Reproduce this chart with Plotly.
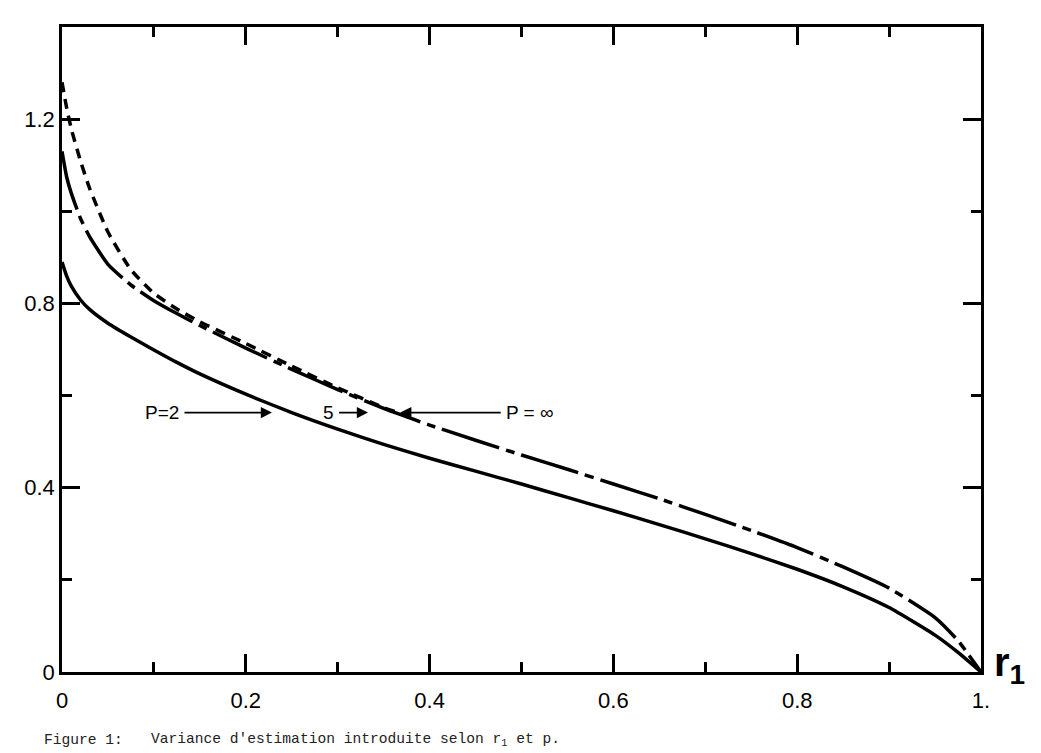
import plotly.graph_objects as go

# ---- data ----
r1 = [0, 0.005, 0.01, 0.02, 0.03, 0.05, 0.075, 0.1, 0.125, 0.15, 0.2, 0.25,
      0.3, 0.35, 0.4, 0.45, 0.5, 0.55, 0.6, 0.65, 0.7, 0.75, 0.8, 0.85,
      0.9, 0.95, 0.975, 1.0]

var_p2 = [0.89, 0.86, 0.838, 0.808, 0.787, 0.757, 0.727, 0.699, 0.672, 0.647,
          0.603, 0.563, 0.527, 0.494, 0.464, 0.436, 0.408, 0.379, 0.35, 0.32,
          0.289, 0.257, 0.223, 0.185, 0.14, 0.08, 0.0425, 0.0]

var_pinf = [1.13, 1.075, 1.04, 0.985, 0.945, 0.885, 0.84, 0.806, 0.778, 0.752,
            0.703, 0.657, 0.613, 0.572, 0.536, 0.503, 0.471, 0.44, 0.408,
            0.376, 0.342, 0.307, 0.27, 0.228, 0.182, 0.118, 0.068, 0.0]

r1_p5 = [0, 0.005, 0.01, 0.02, 0.03, 0.05, 0.075, 0.1, 0.125, 0.15, 0.2,
         0.25, 0.3, 0.35, 0.38]
var_p5 = [1.28, 1.225, 1.18, 1.11, 1.05, 0.955, 0.873, 0.822, 0.788, 0.76,
          0.713, 0.664, 0.617, 0.574, 0.553]

x_tickvals = [0, 0.2, 0.4, 0.6, 0.8, 1.0]
x_ticktext = ["0", "0.2", "0.4", "0.6", "0.8", "1."]
y_tickvals = [0, 0.4, 0.8, 1.2]
y_ticktext = ["0", "0.4", "0.8", "1.2"]

fig = go.Figure()
fig.add_trace(go.Scatter(x=r1, y=var_p2, mode="lines", name="P=2",
                         line=dict(color="black", width=3.5, shape="spline",
                                   smoothing=0.5)))
fig.add_trace(go.Scatter(x=r1, y=var_pinf, mode="lines", name="P=∞",
                         line=dict(color="black", width=3.5, shape="spline",
                                   smoothing=0.5, dash="60px,7px,9px,7px")))
fig.add_trace(go.Scatter(x=r1_p5, y=var_p5, mode="lines", name="P=5",
                         line=dict(color="black", width=3.5, shape="spline",
                                   smoothing=0.5, dash="10px,7px")))

axis_common = dict(showgrid=False, zeroline=False, showline=True,
                   linecolor="black", linewidth=2.5, mirror="allticks",
                   ticks="inside", tickcolor="black", tickwidth=2.5,
                   ticklen=18,
                   tickfont=dict(family="Liberation Sans, Arial", size=22,
                                 color="black"))

fig.update_xaxes(range=[0, 1.0], tickmode="array", tickvals=x_tickvals,
                 ticktext=x_ticktext, ticklabelstandoff=7,
                 minor=dict(dtick=0.1, tick0=0, ticks="inside", ticklen=10,
                            tickwidth=2.5, tickcolor="black"),
                 **axis_common)
fig.update_yaxes(range=[0, 1.4], tickmode="array", tickvals=y_tickvals,
                 ticktext=y_ticktext, ticklabelstandoff=0,
                 minor=dict(dtick=0.2, tick0=0, ticks="inside", ticklen=10,
                            tickwidth=2.5, tickcolor="black"),
                 **axis_common)

lab_font = dict(family="Liberation Sans, Arial", size=19, color="black")
arrow_style = dict(showarrow=True, arrowhead=2, arrowsize=1.4, arrowwidth=1.6,
                   arrowcolor="black", standoff=0, borderpad=5, font=lab_font)
anns = [
    dict(x=0.2285, y=0.563, ax=-110, ay=0, text="P=2", **arrow_style),
    dict(x=0.333, y=0.563, ax=-40, ay=0, text="5", **arrow_style),
    dict(x=0.368, y=0.563, ax=130, ay=0, text="P = ∞", **arrow_style),
    # axis title r1
    dict(xref="paper", yref="paper", x=1.0, y=0.0, xshift=46, yshift=-20,
         text="<b>r<sub>1</sub></b>", showarrow=False,
         font=dict(family="Liberation Sans, Arial", size=40, color="black")),
    # caption
    dict(xref="paper", yref="paper", x=0, y=0, xanchor="left",
         yanchor="middle", xshift=-20, yshift=-68, text="Figure 1:",
         showarrow=False,
         font=dict(family="Liberation Mono, DejaVu Sans Mono", size=14.6,
                   color="#222")),
    dict(xref="paper", yref="paper", x=0, y=0, xanchor="left",
         yanchor="middle", xshift=87, yshift=-68,
         text="Variance d'estimation introduite selon r<sub>1</sub> et p.",
         showarrow=False,
         font=dict(family="Liberation Mono, DejaVu Sans Mono", size=14.6,
                   color="#222")),
]

fig.update_layout(width=1041, height=753, autosize=False,
                  margin=dict(l=62, r=60, t=27, b=81),
                  paper_bgcolor="white", plot_bgcolor="white",
                  showlegend=False, annotations=anns)

fig.write_html("out.html")
